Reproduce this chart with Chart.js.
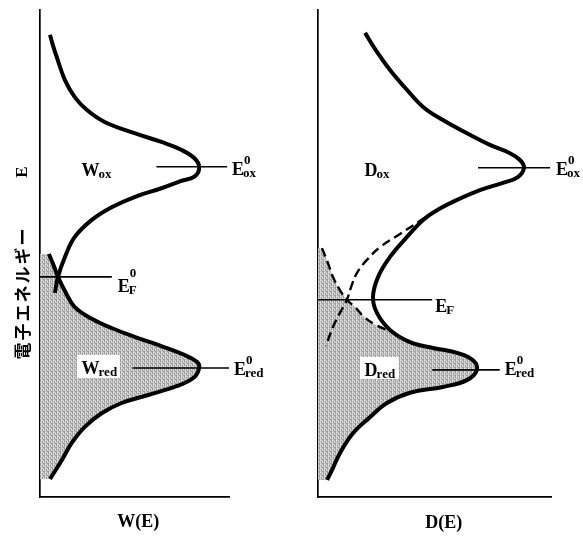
<!DOCTYPE html>
<html>
<head>
<meta charset="utf-8">
<script src="https://cdn.jsdelivr.net/npm/chart.js"></script>
<style>
  html, body { margin: 0; padding: 0; background: #fff; }
  #wrap { position: relative; width: 583px; height: 537px; }
  .panel { position: absolute; top: 0; height: 537px; }
  #left { left: 0; width: 295px; }
  #right { left: 295px; width: 288px; }
</style>
</head>
<body>
<div id="wrap">
  <div class="panel" id="left"><canvas id="wChart"></canvas></div>
  <div class="panel" id="right"><canvas id="dChart"></canvas></div>
</div>
<script>
// Energy E runs 0..100 (arbitrary units, upward); densities run 0..100.

// W(E): oxidised and reduced distributions
const wOxE  = [94.9, 92.8, 90.3, 85.6, 82.1, 79.5, 77.0, 74.7, 72.9, 71.3, 69.6, 67.8, 65.9, 64.9, 63.4, 61.6, 59.5, 56.9, 53.4, 49.3, 45.2, 41.9];
const wOxW  = [5.3, 6.8, 8.9, 13.2, 18.4, 24.7, 34.2, 50.0, 64.2, 74.7, 81.6, 84.2, 82.1, 74.7, 64.2, 50.0, 37.9, 27.4, 18.4, 13.2, 9.5, 7.9];
const wRedE = [49.9, 47.4, 45.2, 41.9, 39.0, 36.6, 34.7, 32.9, 31.0, 29.2, 27.7, 26.5, 24.6, 22.8, 20.9, 19.3, 17.2, 14.4, 11.1, 7.6, 3.7];
const wRedW = [4.7, 7.4, 9.5, 13.7, 18.4, 27.4, 37.9, 50.0, 64.2, 76.3, 83.2, 84.2, 81.6, 72.6, 56.8, 43.2, 32.6, 23.7, 16.8, 11.6, 5.3];

// D(E): combined solid curve, plus the dashed continuations
const dMainE = [95.3, 91.4, 87.7, 83.6, 80.1, 77.4, 74.7, 72.3, 70.6, 69.2, 67.6, 65.7, 64.5, 63.0, 61.0, 58.9, 56.9, 53.4, 49.3, 45.2, 41.1, 37.8, 34.3, 31.8, 30.6, 29.6, 28.1, 26.1, 24.0, 22.6, 21.4, 19.3, 16.4, 13.1, 9.0, 5.5, 3.5];
const dMainD = [20.2, 25.3, 30.9, 38.2, 45.1, 53.6, 63.9, 73.8, 82.4, 86.7, 88.4, 85.8, 79.4, 69.5, 59.7, 51.1, 45.1, 38.2, 30.9, 25.8, 23.6, 25.3, 30.9, 39.5, 49.4, 59.7, 66.5, 68.2, 63.9, 53.6, 39.5, 29.6, 22.3, 15.0, 9.4, 6.0, 3.9];
const dOxTailE = [58.9, 56.7, 54.0, 51.3, 48.7, 46.0, 43.1, 40.5, 37.8, 34.9, 31.0];
const dOxTailD = [51.1, 43.8, 35.2, 26.6, 21.0, 16.7, 14.2, 12.4, 9.4, 6.4, 3.4];
const dRedHeadE = [51.1, 48.0, 45.2, 42.5, 40.5, 38.8, 37.0, 35.3, 33.9];
const dRedHeadD = [1.7, 4.3, 6.4, 9.4, 12.4, 16.3, 19.7, 24.9, 31.8];

// energy levels: [E, from, to]
const wLevels = { ox: [67.8, 61.6, 99.0], F: [45.2, 0, 38.0], red: [26.5, 49.0, 100] };
const dLevels = { ox: [67.6, 68.7, 99.6], F: [40.5, 0, 49.0], red: [26.1, 49.0, 78.0] };

const pts = (es, xs) => es.map((e, i) => ({ x: xs[i], y: e }));
const levelPts = l => [{ x: l[1], y: l[0] }, { x: l[2], y: l[0] }];

// grey stipple used for the shaded occupied states
function stipple() {
  const c = document.createElement('canvas');
  c.width = 4; c.height = 4;
  const g = c.getContext('2d');
  g.fillStyle = '#c8c8c8';
  g.fillRect(0, 0, 4, 4);
  g.fillStyle = '#9a9a9a';
  [[0, 0], [0, 1], [0, 3], [2, 1], [2, 2], [3, 3]].forEach(([x, y]) => g.fillRect(x, y, 1, 1));
  g.fillStyle = '#e6e6e6';
  [[1, 0], [3, 1], [1, 2]].forEach(([x, y]) => g.fillRect(x, y, 1, 1));
  return g.createPattern(c, 'repeat');
}
const shade = stipple();

const SERIF = '"Liberation Serif", "Times New Roman", serif';

function curve(data, extra) {
  return Object.assign({
    data, borderColor: '#000', borderWidth: 4, tension: 0.4,
    pointRadius: 0, fill: false, clip: false, order: 1
  }, extra || {});
}
function level(l) {
  return { data: levelPts(l), borderColor: '#000', borderWidth: 1.6, pointRadius: 0, fill: false, tension: 0, clip: false, order: 0 };
}

// symbol with optional subscript / superscript, baseline at y
function sym(ctx, x, y, main, sub, sup, supRise) {
  ctx.textAlign = 'left';
  ctx.textBaseline = 'alphabetic';
  ctx.font = 'bold 18px ' + SERIF;
  ctx.fillText(main, x, y);
  const w = ctx.measureText(main).width;
  ctx.font = 'bold 13px ' + SERIF;
  if (sup) ctx.fillText(sup, x + w, y - (supRise || 11));
  if (sub) ctx.fillText(sub, x + w - 1, y + 2);
}

function axisText(ctx, text, cx, y) {
  ctx.font = 'bold 18px ' + SERIF;
  ctx.textAlign = 'center';
  ctx.textBaseline = 'alphabetic';
  ctx.fillText(text, cx, y);
}

function whiteBox(ctx, x, y, w, h) {
  ctx.fillStyle = '#fff';
  ctx.fillRect(x, y, w, h);
  ctx.fillStyle = '#000';
}

function baseOptions(pad) {
  const axis = { type: 'linear', min: 0, max: 100, grid: { display: false }, ticks: { display: false }, border: { color: '#000', width: 1.7 } };
  return {
    indexAxis: 'y',
    responsive: true, maintainAspectRatio: false,
    animation: false, events: [],
    layout: { padding: pad },
    plugins: { legend: { display: false }, tooltip: { enabled: false } },
    scales: { x: Object.assign({}, axis), y: Object.assign({}, axis) }
  };
}

const wLabels = {
  id: 'wLabels',
  afterDraw(chart) {
    const { ctx, scales: { x, y } } = chart;
    ctx.save();
    ctx.fillStyle = '#000';
    const px = v => x.getPixelForValue(v), py = v => y.getPixelForValue(v);
    sym(ctx, px(wLevels.ox[2]) + 5, py(wLevels.ox[0]) + 8, 'E', 'ox', '0');
    sym(ctx, px(wLevels.F[2]) + 6, py(wLevels.F[0]) + 15, 'E', 'F', '0', 15);
    sym(ctx, px(wLevels.red[2]) + 5, py(wLevels.red[0]) + 7, 'E', 'red', '0');
    sym(ctx, px(22), py(wLevels.ox[0]) + 9, 'W', 'ox');
    whiteBox(ctx, px(19.5), py(wLevels.red[0]) - 13, 43, 23);
    sym(ctx, px(22), py(wLevels.red[0]) + 6, 'W', 'red');
    axisText(ctx, 'W(E)', px(52), 527);

    // vertical energy-axis title
    ctx.font = 'bold 17px "Noto Sans CJK JP", sans-serif';
    ctx.textAlign = 'center';
    ctx.textBaseline = 'middle';
    const chars = ['電', '子', 'エ', 'ネ', 'ル', 'ギ', 'ー'];
    chars.forEach((c, i) => {
      ctx.save();
      ctx.translate(23, 351 - i * 19);
      ctx.rotate(-Math.PI / 2);
      ctx.fillText(c, 0, 0);
      ctx.restore();
    });
    ctx.save();
    ctx.translate(23, 172);
    ctx.rotate(-Math.PI / 2);
    ctx.font = 'bold 17px ' + SERIF;
    ctx.fillText('E', 0, 0);
    ctx.restore();
    ctx.restore();
  }
};

const dLabels = {
  id: 'dLabels',
  afterDraw(chart) {
    const { ctx, scales: { x, y } } = chart;
    ctx.save();
    ctx.fillStyle = '#000';
    const px = v => x.getPixelForValue(v), py = v => y.getPixelForValue(v);
    sym(ctx, px(dLevels.ox[2]) + 6, py(dLevels.ox[0]) + 7, 'E', 'ox', '0');
    sym(ctx, px(dLevels.F[2]) + 3, py(dLevels.F[0]) + 12, 'E', 'F');
    sym(ctx, px(dLevels.red[2]) + 5, py(dLevels.red[0]) + 5, 'E', 'red', '0');
    sym(ctx, px(20), py(dLevels.ox[0]) + 8, 'D', 'ox');
    whiteBox(ctx, px(18), py(dLevels.red[0]) - 13, 39, 22);
    sym(ctx, px(20), py(dLevels.red[0]) + 6, 'D', 'red');
    axisText(ctx, 'D(E)', px(54), 528);
    ctx.restore();
  }
};

new Chart(document.getElementById('wChart'), {
  type: 'line',
  data: {
    datasets: [
      curve(pts(wRedE, wRedW), { fill: 'origin', backgroundColor: shade, order: 5 }),
      curve(pts(wOxE, wOxW)),
      level(wLevels.ox), level(wLevels.F), level(wLevels.red)
    ]
  },
  options: baseOptions({ left: 32, right: 66, top: 10, bottom: 32 }),
  plugins: [wLabels]
});

// shaded reduced states: dashed head, then the lower part of the solid curve
const dRedFillE = dRedHeadE.concat(dMainE.filter(e => e <= 31.8));
const dRedFillD = dRedHeadD.concat(dMainD.filter((d, i) => dMainE[i] <= 31.8));

new Chart(document.getElementById('dChart'), {
  type: 'line',
  data: {
    datasets: [
      curve(pts(dRedFillE, dRedFillD), { fill: 'origin', backgroundColor: shade, borderWidth: 0, borderColor: 'rgba(0,0,0,0)', order: 5 }),
      curve(pts(dRedHeadE, dRedHeadD), { borderWidth: 2.4, borderDash: [9, 5], order: 2 }),
      curve(pts(dOxTailE, dOxTailD), { borderWidth: 2.4, borderDash: [9, 5], order: 2 }),
      curve(pts(dMainE, dMainD)),
      level(dLevels.ox), level(dLevels.F), level(dLevels.red)
    ]
  },
  options: baseOptions({ left: 15, right: 32, top: 10, bottom: 32 }),
  plugins: [dLabels]
});
</script>
</body>
</html>
